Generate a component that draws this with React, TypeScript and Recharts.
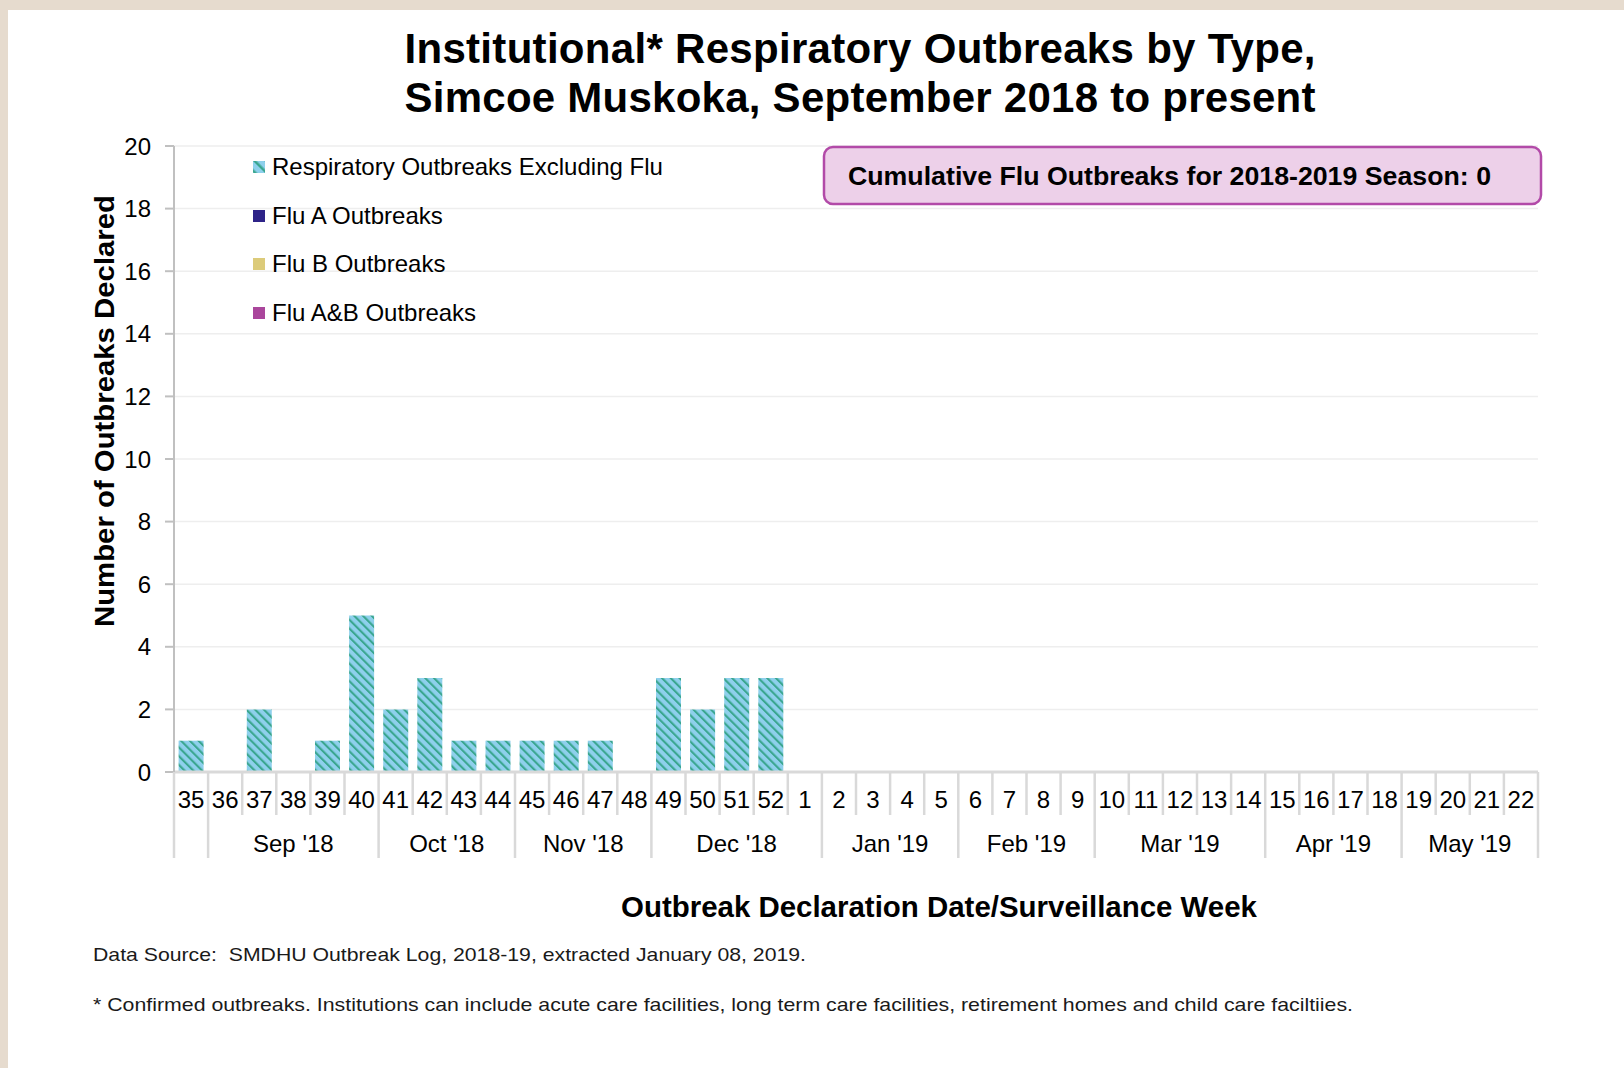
import React from 'react';
import { BarChart, Bar, XAxis, YAxis, CartesianGrid, Legend } from 'recharts';

const weeks = ['35', '36', '37', '38', '39', '40', '41', '42', '43', '44', '45', '46', '47', '48', '49', '50', '51', '52', '1', '2', '3', '4', '5', '6', '7', '8', '9', '10', '11', '12', '13', '14', '15', '16', '17', '18', '19', '20', '21', '22'];
const respiratoryExclFlu = [1, 0, 2, 0, 1, 5, 2, 3, 1, 1, 1, 1, 1, 0, 3, 2, 3, 3, 0, 0, 0, 0, 0, 0, 0, 0, 0, 0, 0, 0, 0, 0, 0, 0, 0, 0, 0, 0, 0, 0];
const fluA = [0, 0, 0, 0, 0, 0, 0, 0, 0, 0, 0, 0, 0, 0, 0, 0, 0, 0, 0, 0, 0, 0, 0, 0, 0, 0, 0, 0, 0, 0, 0, 0, 0, 0, 0, 0, 0, 0, 0, 0];
const fluB = [0, 0, 0, 0, 0, 0, 0, 0, 0, 0, 0, 0, 0, 0, 0, 0, 0, 0, 0, 0, 0, 0, 0, 0, 0, 0, 0, 0, 0, 0, 0, 0, 0, 0, 0, 0, 0, 0, 0, 0];
const fluAB = [0, 0, 0, 0, 0, 0, 0, 0, 0, 0, 0, 0, 0, 0, 0, 0, 0, 0, 0, 0, 0, 0, 0, 0, 0, 0, 0, 0, 0, 0, 0, 0, 0, 0, 0, 0, 0, 0, 0, 0];
const monthLabels = ['', "Sep '18", "Oct '18", "Nov '18", "Dec '18", "Jan '19", "Feb '19", "Mar '19", "Apr '19", "May '19"];
const monthWeekCounts = [1, 5, 4, 4, 5, 4, 4, 5, 4, 4];
const yTicks = [0, 2, 4, 6, 8, 10, 12, 14, 16, 18, 20];
const seriesNames = ['Respiratory Outbreaks Excluding Flu', 'Flu A Outbreaks', 'Flu B Outbreaks', 'Flu A&B Outbreaks'];
const cumulativeFlu = 0;

const data = weeks.map((w, i) => ({
  week: w,
  resp: respiratoryExclFlu[i],
  fluA: fluA[i],
  fluB: fluB[i],
  fluAB: fluAB[i],
}));

const groupStart: Record<number, number> = {};
{
  let s = 0;
  monthWeekCounts.forEach((c, gi) => {
    groupStart[s] = gi;
    s += c;
  });
}

const FONT = '"Liberation Sans", Arial, sans-serif';
const SEP = '#d9d9d9';
const BLUE = '#8ed0ec';
const TEAL = '#3aa68f';

const WeekTick = (props: any) => {
  const { x, y, payload, index, width, visibleTicksCount } = props;
  const half = payload && payload.offset ? payload.offset : width / visibleTicksCount / 2;
  const gi = groupStart[index];
  const isLast = index === weeks.length - 1;
  return (
    <g>
      <line x1={x - half} x2={x - half} y1={y} y2={gi !== undefined ? y + 86 : y + 43} stroke={SEP} strokeWidth={2.5} />
      {isLast && <line x1={x + half} x2={x + half} y1={y} y2={y + 86} stroke={SEP} strokeWidth={2.5} />}
      <text x={x} y={y + 36} textAnchor="middle" fontSize={24} fontFamily={FONT} fill="#000">
        {payload.value}
      </text>
      {gi !== undefined && monthLabels[gi] && (
        <text x={x - half + monthWeekCounts[gi] * half} y={y + 80} textAnchor="middle" fontSize={24} fontFamily={FONT} fill="#000">
          {monthLabels[gi]}
        </text>
      )}
    </g>
  );
};

const LegendContent = (props: any) => {
  const items = [...(props.payload || [])].sort(
    (a: any, b: any) => seriesNames.indexOf(a.value) - seriesNames.indexOf(b.value)
  );
  return (
    <div style={{ fontFamily: FONT, fontSize: 24, color: '#000' }}>
      {items.map((p: any, i: number) => (
        <div key={i} style={{ height: 48.6, display: 'flex', alignItems: 'center', whiteSpace: 'nowrap' }}>
          <svg width={12} height={12} style={{ marginRight: 7 }}>
            <rect width={12} height={12} fill={p.dataKey === 'resp' ? 'url(#respStripeLegend)' : p.color} />
          </svg>
          <span>{p.value}</span>
        </div>
      ))}
    </div>
  );
};

export default function App() {
  return (
    <div style={{ position: 'absolute', left: 0, top: 0, width: 1624, height: 1068, background: '#e6dbce', overflow: 'hidden' }}>
      <div style={{ position: 'absolute', left: 8, top: 10, width: 1616, height: 1058, background: '#fff' }} />
      <svg width={0} height={0} style={{ position: 'absolute' }}>
        <defs>
          <pattern id="respStripeLegend" patternUnits="userSpaceOnUse" width={8} height={8} patternTransform="rotate(-45)">
            <rect width={8} height={8} fill={BLUE} />
            <rect width={2.5} height={8} fill={TEAL} />
          </pattern>
        </defs>
      </svg>
      <div style={{ position: 'absolute', left: 0, top: 0 }}>
        <BarChart width={1624} height={1068} data={data} margin={{ top: 146, right: 86, bottom: 210, left: 114 }} barCategoryGap="13.5%">
          <defs>
            <pattern id="respStripe" patternUnits="userSpaceOnUse" width={6.2} height={6.2} patternTransform="rotate(-45)">
              <rect width={6.2} height={6.2} fill={BLUE} />
              <rect width={2.1} height={6.2} fill={TEAL} />
            </pattern>
          </defs>
          <CartesianGrid vertical={false} stroke="#eeeeee" strokeWidth={1.5} />
          <XAxis
            dataKey="week"
            interval={0}
            height={86}
            tickSize={0}
            tickMargin={0}
            tickLine={false}
            axisLine={{ stroke: SEP, strokeWidth: 3 }}
            tick={<WeekTick />}
          />
          <YAxis
            width={60}
            domain={[0, 20]}
            ticks={yTicks}
            interval={0}
            tickSize={9}
            tickMargin={14}
            axisLine={{ stroke: '#c0c0c0', strokeWidth: 2 }}
            tickLine={{ stroke: '#c0c0c0', strokeWidth: 2 }}
            tick={{ fontSize: 24, fontFamily: FONT, fill: '#000' }}
          />
          <Legend
            layout="vertical"
            align="center"
            verticalAlign="middle"
            wrapperStyle={{ left: 253, top: 143, width: 500, height: 200 }}
            content={<LegendContent />}
          />
          <Bar dataKey="resp" name={seriesNames[0]} stackId="a" fill="url(#respStripe)" isAnimationActive={false} />
          <Bar dataKey="fluA" name={seriesNames[1]} stackId="a" fill="#2e2388" isAnimationActive={false} />
          <Bar dataKey="fluB" name={seriesNames[2]} stackId="a" fill="#dccb7a" isAnimationActive={false} />
          <Bar dataKey="fluAB" name={seriesNames[3]} stackId="a" fill="#aa469c" isAnimationActive={false} />
        </BarChart>
      </div>
      <svg width={1624} height={1068} style={{ position: 'absolute', left: 0, top: 0, pointerEvents: 'none' }} fontFamily={FONT}>
        <text x={860} y={63} textAnchor="middle" fontSize={42} fontWeight="bold" fill="#000" textLength={911} lengthAdjust="spacing">
          Institutional* Respiratory Outbreaks by Type,
        </text>
        <text x={860} y={112} textAnchor="middle" fontSize={42} fontWeight="bold" fill="#000" textLength={911} lengthAdjust="spacing">
          Simcoe Muskoka, September 2018 to present
        </text>
        <rect x={824} y={147} width={717} height={57} rx={9} fill="#edd0e9" stroke="#b24aa8" strokeWidth={2.5} />
        <text x={848} y={185} fontSize={25} fontWeight="bold" fill="#000" textLength={643} lengthAdjust="spacingAndGlyphs">
          {`Cumulative Flu Outbreaks for 2018-2019 Season: ${cumulativeFlu}`}
        </text>
        <text x={0} y={0} transform="translate(114 411) rotate(-90)" textAnchor="middle" fontSize={28.5} fontWeight="bold" fill="#000" textLength={432} lengthAdjust="spacingAndGlyphs">
          Number of Outbreaks Declared
        </text>
        <text x={939} y={917} textAnchor="middle" fontSize={29} fontWeight="bold" fill="#000" textLength={636} lengthAdjust="spacingAndGlyphs">
          Outbreak Declaration Date/Surveillance Week
        </text>
        <text x={93} y={961} fontSize={18.5} fill="#1a1a1a" textLength={713} lengthAdjust="spacingAndGlyphs">
          {'Data Source:\u00a0 SMDHU Outbreak Log, 2018-19, extracted January 08, 2019.'}
        </text>
        <text x={93} y={1011} fontSize={18.5} fill="#1a1a1a" textLength={1260} lengthAdjust="spacingAndGlyphs">
          * Confirmed outbreaks. Institutions can include acute care facilities, long term care facilities, retirement homes and child care faciltiies.
        </text>
      </svg>
    </div>
  );
}
